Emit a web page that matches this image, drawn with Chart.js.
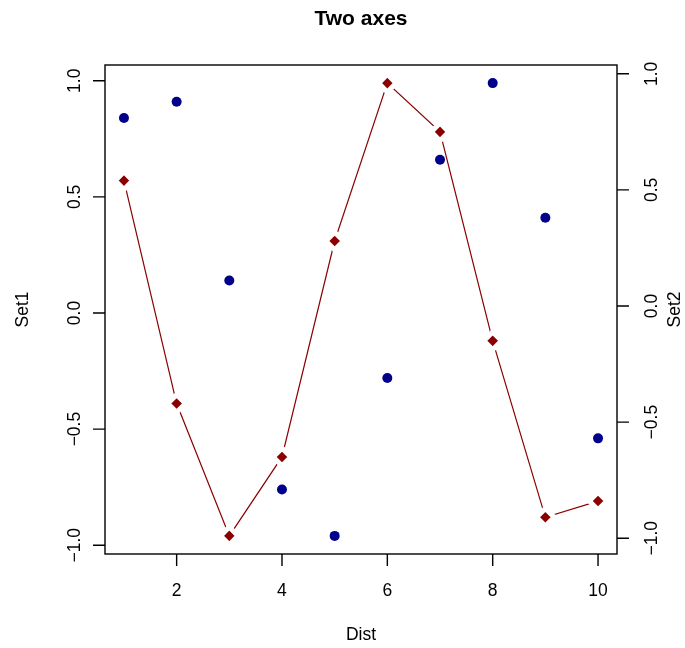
<!DOCTYPE html>
<html>
<head>
<meta charset="utf-8">
<title>Two axes</title>
<script src="https://cdn.jsdelivr.net/npm/chart.js@4.4.0/dist/chart.umd.min.js"></script>
<style>
  html, body { margin: 0; padding: 0; background: #fff; }
  canvas { display: block; }
</style>
</head>
<body>
<canvas id="canvas" width="685" height="648"></canvas>
<script>
// data
var dist = [1, 2, 3, 4, 5, 6, 7, 8, 9, 10];
var set1 = [0.84, 0.91, 0.14, -0.76, -0.96, -0.28, 0.66, 0.99, 0.41, -0.54];
var set2 = [0.54, -0.42, -0.99, -0.65, 0.28, 0.96, 0.75, -0.15, -0.91, -0.84];

var xTicks = [2, 4, 6, 8, 10];
var yTicks = [-1, -0.5, 0, 0.5, 1];
var yTickLabels = ['\u22121.0', '\u22120.5', '0.0', '0.5', '1.0'];

var FONT = '"Liberation Sans", Arial, Helvetica, sans-serif';

// R style axis range: data range stretched by 4% each side
function rRange(arr) {
    var lo = Math.min.apply(null, arr), hi = Math.max.apply(null, arr);
    var d = (hi - lo) * 0.04;
    return { min: lo - d, max: hi + d };
}
var xr = rRange(dist), y1r = rRange(set1), y2r = rRange(set2);

function pts(ys) {
    return dist.map(function (d, i) { return { x: d, y: ys[i] }; });
}

// box, ticks and all the text, drawn with the chart's own scales
var rAxes = {
    id: 'rAxes',
    afterDraw: function (chart) {
        var ctx = chart.ctx, ca = chart.chartArea;
        var sx = chart.scales.x, sy = chart.scales.y, sy2 = chart.scales.y2;
        var tick = 12;
        ctx.save();
        ctx.strokeStyle = '#000';
        ctx.fillStyle = '#000';
        ctx.lineWidth = 1.4;
        ctx.strokeRect(ca.left, ca.top, ca.right - ca.left, ca.bottom - ca.top);

        ctx.font = '17.5px ' + FONT;
        ctx.textAlign = 'center';
        ctx.textBaseline = 'middle';

        // bottom axis
        ctx.beginPath();
        xTicks.forEach(function (t) {
            var px = sx.getPixelForValue(t);
            ctx.moveTo(px, ca.bottom);
            ctx.lineTo(px, ca.bottom + tick);
        });
        ctx.stroke();
        xTicks.forEach(function (t) {
            ctx.fillText(String(t), sx.getPixelForValue(t), 591);
        });

        // left + right axes
        ctx.beginPath();
        yTicks.forEach(function (v) {
            var p1 = sy.getPixelForValue(v), p2 = sy2.getPixelForValue(v);
            ctx.moveTo(ca.left, p1); ctx.lineTo(ca.left - tick, p1);
            ctx.moveTo(ca.right, p2); ctx.lineTo(ca.right + tick, p2);
        });
        ctx.stroke();
        yTicks.forEach(function (v, i) {
            ctx.save();
            ctx.translate(75, sy.getPixelForValue(v));
            ctx.rotate(-Math.PI / 2);
            ctx.fillText(yTickLabels[i], 0, 0);
            ctx.restore();
            ctx.save();
            ctx.translate(652, sy2.getPixelForValue(v));
            ctx.rotate(-Math.PI / 2);
            ctx.fillText(yTickLabels[i], 0, 0);
            ctx.restore();
        });

        // axis titles
        var midY = (ca.top + ca.bottom) / 2, midX = (ca.left + ca.right) / 2;
        ctx.fillText('Dist', midX, 635);
        ctx.save();
        ctx.translate(23, midY); ctx.rotate(-Math.PI / 2);
        ctx.fillText('Set1', 0, 0);
        ctx.restore();
        ctx.save();
        ctx.translate(675, midY); ctx.rotate(-Math.PI / 2);
        ctx.fillText('Set2', 0, 0);
        ctx.restore();

        // main title
        ctx.font = 'bold 21px ' + FONT;
        ctx.fillText('Two axes', midX, 19);
        ctx.restore();
    }
};

var chart = new Chart(document.getElementById('canvas').getContext('2d'), {
    type: 'scatter',
    data: {
        datasets: [{
            label: 'Set1',
            data: pts(set1),
            yAxisID: 'y',
            pointStyle: 'circle',
            pointRadius: 5,
            pointBorderWidth: 0,
            backgroundColor: '#00008B',
            showLine: false
        }, {
            label: 'Set2',
            data: pts(set2),
            yAxisID: 'y2',
            showLine: true,
            borderColor: '#8B0000',
            borderWidth: 1.2,
            pointStyle: 'rectRot',
            pointRadius: 8.8,
            pointBackgroundColor: '#8B0000',
            pointBorderColor: '#ffffff',   // white rim gives the type="b" gaps
            pointBorderWidth: 5
        }]
    },
    options: {
        responsive: false,
        animation: false,
        events: [],
        layout: { padding: { left: 105, right: 68, top: 65, bottom: 94 } },
        plugins: { legend: { display: false }, tooltip: { enabled: false }, title: { display: false } },
        scales: {
            x: { type: 'linear', display: false, min: xr.min, max: xr.max },
            y: { type: 'linear', display: false, position: 'left', min: y1r.min, max: y1r.max },
            y2: { type: 'linear', display: false, position: 'right', min: y2r.min, max: y2r.max }
        }
    },
    plugins: [rAxes]
});
</script>
</body>
</html>
